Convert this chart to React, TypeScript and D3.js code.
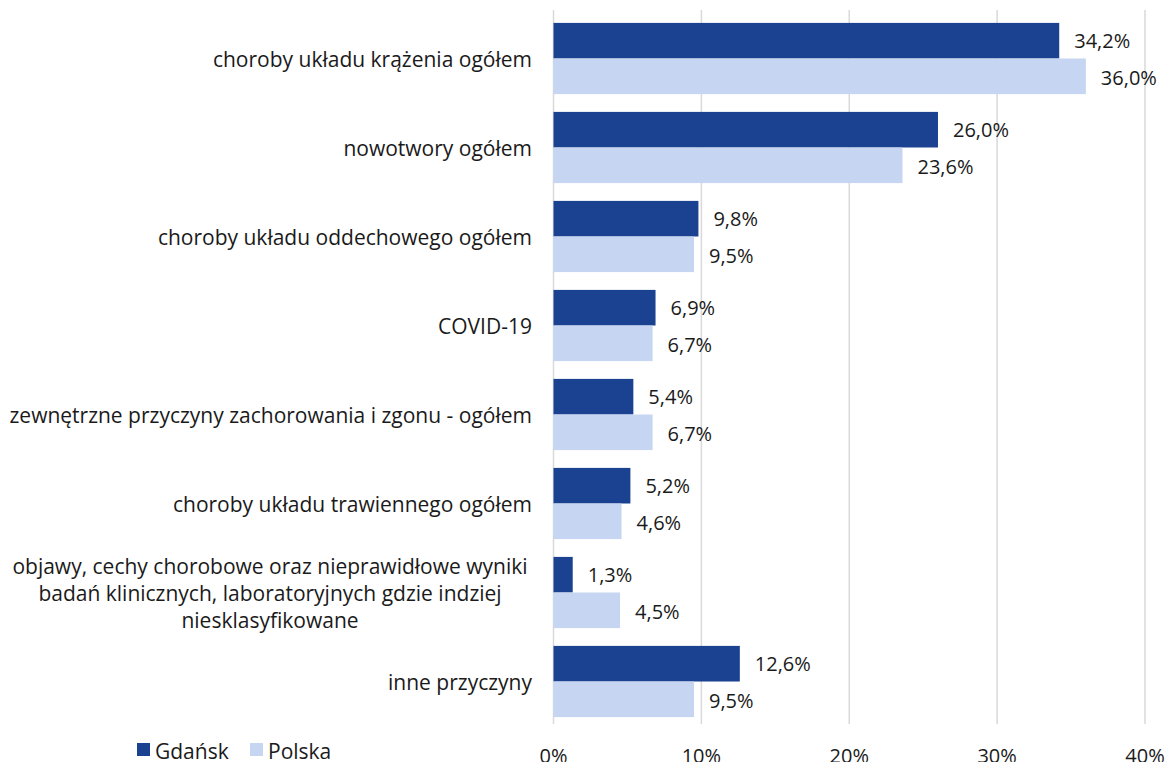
import React from "react";
import * as d3 from "d3";

const categories: string[][] = [
  ["choroby układu krążenia ogółem"],
  ["nowotwory ogółem"],
  ["choroby układu oddechowego ogółem"],
  ["COVID-19"],
  ["zewnętrzne przyczyny zachorowania i zgonu - ogółem"],
  ["choroby układu trawiennego ogółem"],
  [
    "objawy, cechy chorobowe oraz nieprawidłowe wyniki",
    "badań klinicznych, laboratoryjnych gdzie indziej",
    "niesklasyfikowane",
  ],
  ["inne przyczyny"],
];
const gdansk: number[] = [34.2, 26.0, 9.8, 6.9, 5.4, 5.2, 1.3, 12.6];
const polska: number[] = [36.0, 23.6, 9.5, 6.7, 6.7, 4.6, 4.5, 9.5];
const xTicks: number[] = [0, 10, 20, 30, 40];
const seriesNames: string[] = ["Gdańsk", "Polska"];
const seriesColors: string[] = ["#1B4191", "#C5D5F2"];

const W = 1168;
const H = 762;
const FONT = "'Open Sans', sans-serif";
const FS = 20;
const FS_LABEL = 21;

export default function App() {
  const keys = categories.map((_, i) => String(i));
  const x = d3.scaleLinear().domain([0, 40]).range([553.5, 1145]);
  const y = d3.scaleBand<string>().domain(keys).range([14, 726]).paddingInner(0.2).paddingOuter(0.1);
  const inner = d3.scaleBand<string>().domain(["0", "1"]).range([0, y.bandwidth()]);
  const fmt = (v: number) => v.toFixed(1).replace(".", ",") + "%";
  const series = [gdansk, polska];

  return (
    <div style={{ position: "absolute", left: 0, top: 0 }}>
      <svg width={W} height={H} style={{ display: "block", background: "#fff" }} fontFamily={FONT}>
        {xTicks.map((t) => (
          <line key={"g" + t} x1={x(t)} x2={x(t)} y1={10} y2={724} stroke="#D9D9D9" strokeWidth={1.5} />
        ))}
        {keys.map((k, i) => (
          <g key={k} transform={`translate(0,${y(k)})`}>
            {series.map((s, si) => {
              const by = inner(String(si))!;
              const bh = inner.bandwidth();
              return (
                <g key={si}>
                  <rect x={x(0)} y={by} width={x(s[i]) - x(0)} height={bh} fill={seriesColors[si]} />
                  <text
                    x={x(s[i]) + 15}
                    y={by + bh / 2 + (si === 1 ? 1.5 : 0)}
                    dominantBaseline="central"
                    fontSize={FS}
                    fill="#1a1a1a"
                  >
                    {fmt(s[i])}
                  </text>
                </g>
              );
            })}
          </g>
        ))}
        {keys.map((k, i) => {
          const lines = categories[i];
          const cy = y(k)! + y.bandwidth() / 2;
          const lh = 27;
          if (lines.length === 1) {
            return (
              <text key={"l" + k} x={532} y={cy} textAnchor="end" dominantBaseline="central" fontSize={FS_LABEL} fill="#1a1a1a">
                {lines[0]}
              </text>
            );
          }
          return (
            <text key={"l" + k} x={270} textAnchor="middle" fontSize={FS_LABEL} fill="#1a1a1a">
              {lines.map((ln, j) => (
                <tspan key={j} x={270} y={cy + (j - (lines.length - 1) / 2) * lh} dominantBaseline="central">
                  {ln}
                </tspan>
              ))}
            </text>
          );
        })}
        {xTicks.map((t) => (
          <text key={"t" + t} x={x(t)} y={763} textAnchor="middle" fontSize={FS} fill="#1a1a1a">
            {t + "%"}
          </text>
        ))}
        {seriesNames.map((n, i) => {
          const lx = i === 0 ? 137 : 250;
          return (
            <g key={n}>
              <rect x={lx} y={743} width={13} height={13} fill={seriesColors[i]} />
              <text x={lx + 18} y={751} dominantBaseline="central" fontSize={FS_LABEL} fill="#1a1a1a">
                {n}
              </text>
            </g>
          );
        })}
      </svg>
    </div>
  );
}
